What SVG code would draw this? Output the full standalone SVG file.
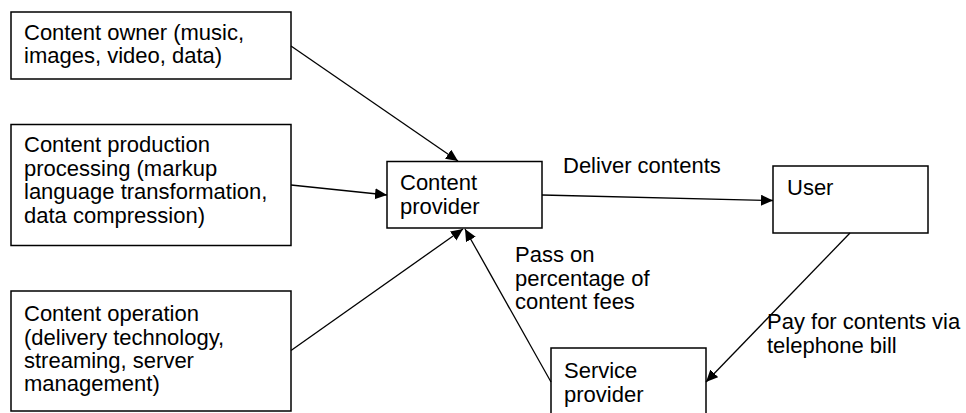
<svg xmlns="http://www.w3.org/2000/svg" width="966" height="413" viewBox="0 0 966 413">
<defs>
<style>
.box{fill:#fff;stroke:#000;stroke-width:1.5}
text{font-family:"Liberation Sans",Arial,sans-serif;font-size:22px;fill:#000}
.conn line{stroke:#000;stroke-width:1.3;fill:none}
</style>
<marker id="arr" markerUnits="userSpaceOnUse" markerWidth="13" markerHeight="12" refX="12" refY="5.5" orient="auto">
<path d="M0,0 L12,5.5 L0,11 z" fill="#000"/>
</marker>
</defs>
<rect width="966" height="413" fill="#fff"/>
<g id="owner">
<rect class="box" x="11" y="12" width="280" height="67"/>
<text x="24" y="40">Content owner (music,</text>
<text x="24" y="63">images, video, data)</text>
</g>
<g id="production">
<rect class="box" x="11" y="124.5" width="280" height="121"/>
<text x="24" y="152">Content production</text>
<text x="24" y="175.5">processing (markup</text>
<text x="24" y="199">language transformation,</text>
<text x="24" y="222.5">data compression)</text>
</g>
<g id="operation">
<rect class="box" x="11" y="291" width="280" height="120"/>
<text x="24" y="321">Content operation</text>
<text x="24" y="344.5">(delivery technology,</text>
<text x="24" y="368">streaming, server</text>
<text x="24" y="391">management)</text>
</g>
<g id="content-provider">
<rect class="box" x="387" y="161.5" width="155" height="66.5"/>
<text x="400" y="190">Content</text>
<text x="400" y="213.5">provider</text>
</g>
<g id="user">
<rect class="box" x="773" y="166" width="155" height="67"/>
<text x="787" y="195">User</text>
</g>
<g id="service-provider">
<rect class="box" x="551" y="348" width="155" height="80"/>
<text x="564" y="378">Service</text>
<text x="564" y="401.5">provider</text>
</g>
<g class="conn" id="connectors">
<line x1="291" y1="46" x2="458" y2="161" marker-end="url(#arr)"/>
<line x1="291" y1="185" x2="387" y2="195" marker-end="url(#arr)"/>
<line x1="291" y1="350.5" x2="463" y2="229" marker-end="url(#arr)"/>
<line x1="551" y1="382" x2="465" y2="229" marker-end="url(#arr)"/>
<line x1="542" y1="195" x2="773" y2="200.5" marker-end="url(#arr)"/>
<line x1="850" y1="233" x2="706" y2="382" marker-end="url(#arr)"/>
</g>
<g id="labels">
<text x="563" y="173">Deliver contents</text>
<text x="515" y="262">Pass on</text>
<text x="515" y="285.5">percentage of</text>
<text x="515" y="309">content fees</text>
<text x="767" y="329">Pay for contents via</text>
<text x="767" y="352.5">telephone bill</text>
</g>
</svg>
